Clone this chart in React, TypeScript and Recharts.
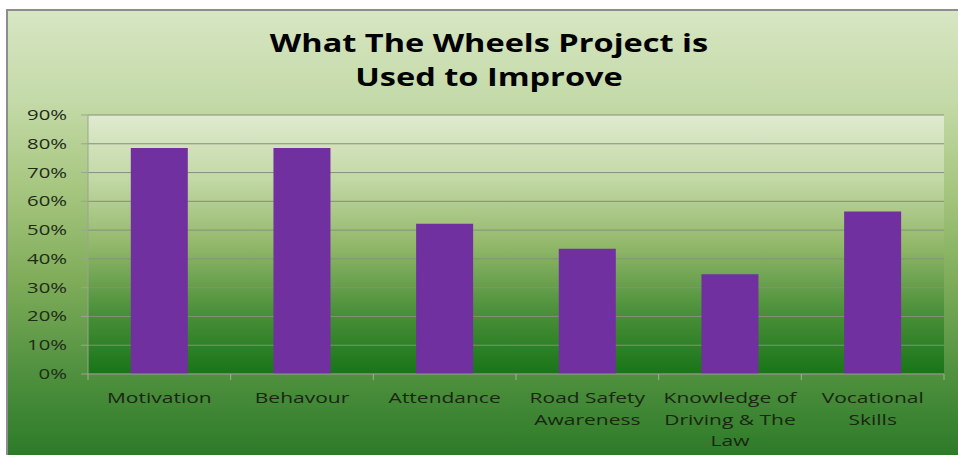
import React from "react";
import { BarChart, Bar, XAxis, YAxis, CartesianGrid } from "recharts";

const categories = [
  "Motivation",
  "Behavour",
  "Attendance",
  "Road Safety Awareness",
  "Knowledge of Driving & The Law",
  "Vocational Skills",
];
const tickLines: string[][] = [
  ["Motivation"],
  ["Behavour"],
  ["Attendance"],
  ["Road Safety", "Awareness"],
  ["Knowledge of", "Driving & The", "Law"],
  ["Vocational", "Skills"],
];
const values = [0.785, 0.785, 0.522, 0.435, 0.347, 0.565];
const yTicks = [0, 0.1, 0.2, 0.3, 0.4, 0.5, 0.6, 0.7, 0.8, 0.9];
const titleLines = ["What The Wheels Project is", "Used to Improve"];

const data = categories.map((c, i) => ({ name: c, idx: i, value: values[i] }));

const W = 958;
const H = 455;
const PLOT_LEFT = 88;
const PLOT_RIGHT = 944;
const BAND = (PLOT_RIGHT - PLOT_LEFT) / categories.length;
const FONT = "'Open Sans', sans-serif";

const XTick = (props: any) => {
  const { x, y, payload, index } = props;
  const lines = tickLines[payload.index ?? index] || [payload.value];
  const left = x - BAND / 2;
  return (
    <g>
      <line x1={left} y1={y - 8} x2={left} y2={y - 2} stroke="#9db58a" strokeWidth={1} />
      {index === categories.length - 1 && (
        <line x1={x + BAND / 2} y1={y - 8} x2={x + BAND / 2} y2={y - 2} stroke="#9db58a" strokeWidth={1} />
      )}
      {lines.map((l: string, i: number) => (
        <text
          key={i}
          transform={`translate(${x},${y + 21 + i * 21.5}) scale(1.4,1)`}
          textAnchor="middle"
          fontFamily={FONT}
          fontSize={15}
          fill="#1a2612"
        >
          {l}
        </text>
      ))}
    </g>
  );
};

const YTick = (props: any) => {
  const { x, y, payload } = props;
  return (
    <text
      transform={`translate(${x},${y + 5}) scale(1.45,1)`}
      textAnchor="end"
      fontFamily={FONT}
      fontSize={14}
      fill="#1f2a18"
    >
      {Math.round(payload.value * 100) + "%"}
    </text>
  );
};

export default function App() {
  return (
    <div style={{ position: "absolute", left: 0, top: 0, width: W, height: H, background: "#fff", overflow: "hidden" }}>
      <div
        style={{
          position: "absolute",
          left: 6,
          top: 9,
          width: W - 6,
          height: H - 9,
          borderLeft: "2px solid #8d8d8d",
          borderTop: "2px solid #8d8d8d",
          background:
            "linear-gradient(to bottom, #d7e6c3 0%, #c4daa8 20%, #a6c67f 40%, #80ad5a 60%, #529240 80%, #2c7a28 100%)",
        }}
      />
      <div style={{ position: "absolute", left: 0, top: 0 }}>
        <BarChart
          width={W}
          height={H}
          data={data}
          margin={{ top: 115, right: W - PLOT_RIGHT, bottom: 0, left: 0 }}
          barCategoryGap="30%"
        >
          <defs>
            <linearGradient id="plotGrad" x1="0" y1="0" x2="0" y2="1">
              <stop offset="0%" stopColor="#dfeacf" />
              <stop offset="25%" stopColor="#c2d8a5" />
              <stop offset="50%" stopColor="#93b86a" />
              <stop offset="75%" stopColor="#4d913b" />
              <stop offset="100%" stopColor="#187517" />
            </linearGradient>
          </defs>
          <CartesianGrid
            vertical={false}
            stroke="#85907a"
            strokeWidth={1}
            fill="url(#plotGrad)"
            fillOpacity={1}
          />
          <XAxis
            dataKey="name"
            height={81}
            tick={<XTick />}
            tickLine={false}
            axisLine={{ stroke: "#8a9a80" }}
            interval={0}
          />
          <YAxis
            width={PLOT_LEFT}
            domain={[0, 0.9]}
            ticks={yTicks}
            tick={<YTick />}
            tickSize={7}
            tickMargin={14}
            tickLine={{ stroke: "#9aa58f" }}
            axisLine={{ stroke: "#9aa58f" }}
          />
          <Bar dataKey="value" fill="#7030a0" isAnimationActive={false} />
        </BarChart>
      </div>
      <div
        style={{
          position: "absolute",
          left: 10,
          top: 25,
          width: W,
          textAlign: "center",
          fontFamily: FONT,
          fontWeight: 700,
          fontSize: 25,
          lineHeight: "34px",
          color: "#000",
          transform: "scaleX(1.3)",
          transformOrigin: "center top",
        }}
      >
        {titleLines.map((l, i) => (
          <div key={i}>{l}</div>
        ))}
      </div>
    </div>
  );
}
